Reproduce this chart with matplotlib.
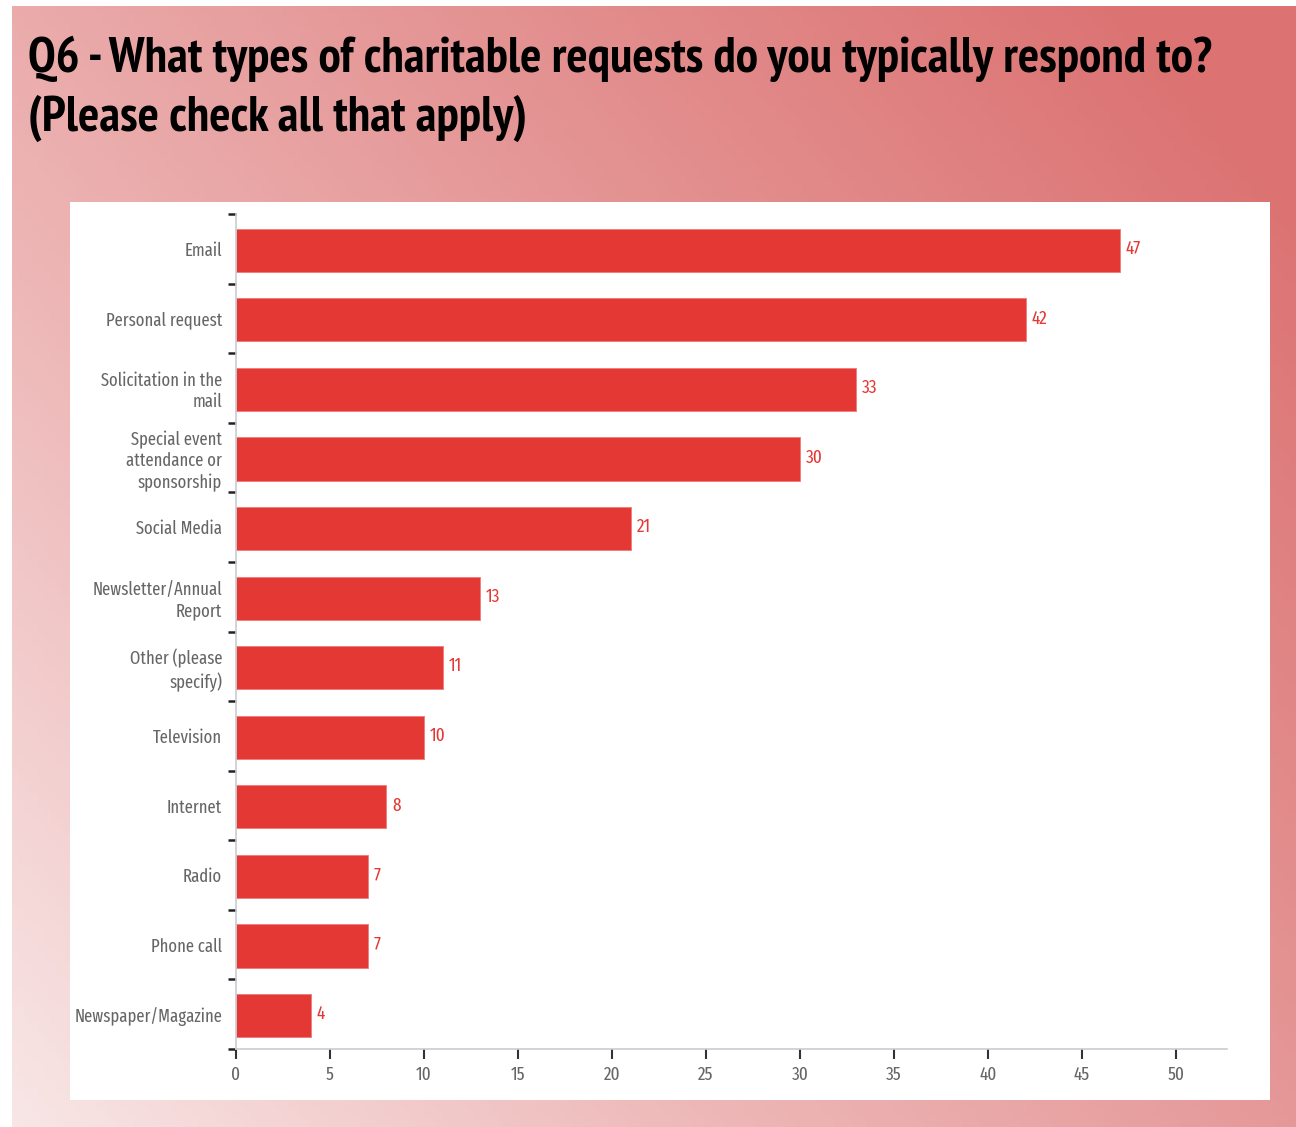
import numpy as np
import matplotlib
matplotlib.use("Agg")
import matplotlib.pyplot as plt
from matplotlib.colors import LinearSegmentedColormap

categories = ["Email", "Personal request", "Solicitation in the\nmail",
              "Special event\nattendance or\nsponsorship", "Social Media",
              "Newsletter/Annual\nReport", "Other (please\nspecify)", "Television",
              "Internet", "Radio", "Phone call", "Newspaper/Magazine"]
values = [47, 42, 33, 30, 21, 13, 11, 10, 8, 7, 7, 4]
xticks = [0, 5, 10, 15, 20, 25, 30, 35, 40, 45, 50]
title_lines = ["Q6 - What types of charitable requests do you typically respond to?",
               "(Please check all that apply)"]

W, H = 1296, 1127
fig = plt.figure(figsize=(W / 100, H / 100), dpi=100)
fig.patch.set_facecolor("white")

# gradient background
bg = fig.add_axes([12 / W, 0, (W - 12) / W, (H - 6) / H])
bg.set_axis_off()
ny, nx = 200, 200
yy, xx = np.mgrid[0:1:ny * 1j, 0:1:nx * 1j]  # yy: 0 bottom .. 1 top
t = np.clip(0.62 * xx + 0.45 * yy, 0, 1)
t = t / t.max()
cmap = LinearSegmentedColormap.from_list("g", ["#f8e6e6", "#eeb8b8", "#e49393", "#dc7272"])
bg.imshow(t, cmap=cmap, origin="lower", aspect="auto", extent=[0, 1, 0, 1])

# white panel
panel = fig.add_axes([70 / W, 1 - 1100 / H, 1200 / W, 898 / H])
panel.set_facecolor("white")
panel.set_xticks([]); panel.set_yticks([])
for s in panel.spines.values():
    s.set_visible(False)

tfam = ["PT Sans Narrow", "DejaVu Sans"]
fam = ["Fira Sans Extra Condensed", "DejaVu Sans"]

fig.text(28 / W, 1 - 72 / H, title_lines[0], fontsize=36, fontweight="bold", family=tfam,
         color="black", va="baseline", ha="left")
fig.text(28 / W, 1 - 131 / H, title_lines[1], fontsize=36, fontweight="bold", family=tfam,
         color="black", va="baseline", ha="left")

x0, x1 = 236, 1227
y0, y1 = 214, 1049
ax = fig.add_axes([x0 / W, 1 - y1 / H, (x1 - x0) / W, (y1 - y0) / H])
ax.set_facecolor("none")
n = len(categories)
pos = np.arange(n)
ax.barh(pos + 0.02, values, height=0.62, color="#e43834", edgecolor="#f07a78", linewidth=0.6)
ax.set_ylim(n - 0.5, -0.5)
xmax = 50 * (x1 - x0) / (1176 - 236)
ax.set_xlim(0, xmax)
for p, v in zip(pos, values):
    ax.text(v + 0.3, p, str(v), va="center", ha="left", fontsize=13.5, color="#e43834", family=fam)

ax.set_yticks(pos)
ax.set_yticklabels(categories, family=fam, fontsize=13, color="#666666", linespacing=1.25)
ax.tick_params(axis="y", length=0, pad=10)
ax.set_yticks(np.arange(-0.5, n, 1), minor=True)
ax.tick_params(axis="y", which="minor", length=6, width=1.8, color="#222222", left=True, pad=0)
ax.set_xticks(xticks)
ax.set_xticklabels([str(x) for x in xticks], family=fam, fontsize=13.5, color="#666666")
ax.tick_params(axis="x", length=7, width=1.5, color="#333333", pad=5)
for s in ["top", "right"]:
    ax.spines[s].set_visible(False)
ax.spines["left"].set_color("#c8ccd2")
ax.spines["bottom"].set_color("#c8ccd2")
ax.spines["left"].set_linewidth(1.2)
ax.spines["bottom"].set_linewidth(1.2)

fig.savefig("out.png", dpi=100)
